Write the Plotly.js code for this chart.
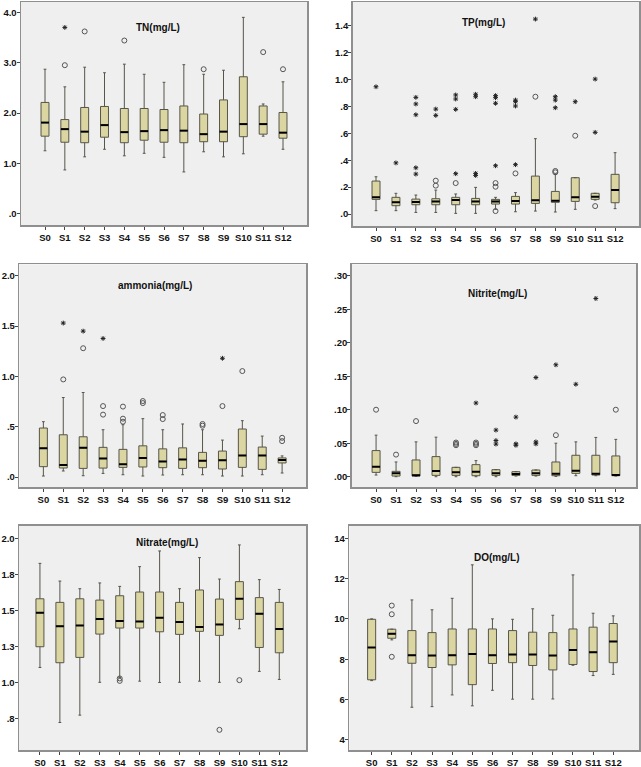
<!DOCTYPE html>
<html>
<head>
<meta charset="utf-8">
<script src="https://cdn.plot.ly/plotly-3.0.1.min.js"></script>
<style>html,body{margin:0;padding:0;background:#fff;}#chart{width:641px;height:767px;}</style>
</head>
<body>
<div id="chart"></div>
<script>
const stations = ['S0','S1','S2','S3','S4','S5','S6','S7','S8','S9','S10','S11','S12'];

// TN(mg/L)
const tnUpper = [2.87,2.52,2.91,2.80,2.97,2.77,2.61,2.96,2.77,2.85,3.90,2.18,2.62];
const tnQ3    = [2.21,1.87,2.11,2.13,2.09,2.09,2.07,2.14,1.98,2.26,2.72,2.14,2.01];
const tnMed   = [1.81,1.68,1.63,1.76,1.62,1.64,1.66,1.65,1.58,1.63,1.78,1.78,1.61];
const tnQ1    = [1.54,1.42,1.41,1.52,1.41,1.46,1.42,1.41,1.43,1.43,1.53,1.58,1.50];
const tnLower = [1.25,0.87,1.13,1.28,1.15,1.20,1.12,0.83,1.23,1.13,1.19,1.54,1.28];
const tnCircSt  = ['S1','S2','S4','S8','S11','S12'];
const tnCircVal = [2.95,3.62,3.44,2.87,3.21,2.87];
const tnStarSt  = ['S1'];
const tnStarVal = [3.70];

// TP(mg/L)
const tpUpper = [0.277,0.154,0.141,0.178,0.149,0.198,0.124,0.159,0.560,0.297,0.270,0.154,0.456];
const tpQ3    = [0.245,0.124,0.111,0.114,0.124,0.116,0.109,0.131,0.282,0.168,0.270,0.154,0.295];
const tpMed   = [0.124,0.087,0.089,0.094,0.104,0.094,0.094,0.097,0.102,0.099,0.124,0.129,0.178];
const tpQ1    = [0.109,0.062,0.069,0.069,0.069,0.069,0.074,0.074,0.079,0.087,0.094,0.109,0.084];
const tpLower = [0.025,0.025,0.012,0.012,0.005,0.005,0.035,0.017,0.022,0.015,0.035,0.104,0.040];
const tpCircSt  = ['S3','S3','S4','S6','S6','S6','S7','S8','S9','S9','S10','S11'];
const tpCircVal = [0.248,0.211,0.230,0.230,0.203,0.022,0.302,0.872,0.320,0.310,0.582,0.059];
const tpStarSt  = ['S0','S1','S2','S2','S2','S2','S2','S3','S3','S4','S4','S4','S4','S5','S5','S5','S5','S6','S6','S6','S6','S7','S7','S7','S7','S8','S9','S9','S9','S10','S11','S11'];
const tpStarVal = [0.946,0.380,0.867,0.818,0.738,0.344,0.297,0.780,0.733,0.885,0.855,0.778,0.300,0.890,0.872,0.302,0.287,0.880,0.865,0.823,0.359,0.847,0.835,0.803,0.367,1.449,0.872,0.847,0.790,0.835,1.003,0.607];

// ammonia(mg/L)
const amUpper = [0.55,0.79,0.84,0.47,0.52,0.58,0.47,0.527,0.47,0.367,0.56,0.407,0.21];
const amQ3    = [0.487,0.42,0.40,0.295,0.275,0.31,0.28,0.29,0.245,0.258,0.477,0.298,0.19];
const amMed   = [0.285,0.12,0.29,0.185,0.126,0.19,0.155,0.175,0.162,0.166,0.215,0.215,0.17];
const amQ1    = [0.103,0.09,0.086,0.089,0.096,0.10,0.093,0.086,0.093,0.08,0.096,0.076,0.14];
const amLower = [0.01,0.06,0.013,0.036,0.023,0.01,0.02,0.023,0.023,0.01,0.01,0.023,0.04];
const amCircSt  = ['S1','S2','S3','S3','S4','S4','S4','S5','S5','S6','S6','S8','S8','S9','S10','S12','S12'];
const amCircVal = [0.97,1.28,0.705,0.62,0.70,0.58,0.55,0.755,0.735,0.616,0.576,0.527,0.51,0.705,1.053,0.39,0.357];
const amStarSt  = ['S1','S2','S3','S9'];
const amStarVal = [1.53,1.45,1.377,1.18];

// Nitrite(mg/L)
const niUpper = [0.062,0.022,0.052,0.059,0.014,0.024,0.0105,0.0075,0.010,0.050,0.052,0.0586,0.0557];
const niQ3    = [0.039,0.008,0.025,0.030,0.014,0.018,0.0105,0.0075,0.010,0.022,0.032,0.032,0.031];
const niMed   = [0.015,0.005,0.002,0.0085,0.0065,0.0075,0.005,0.004,0.005,0.0045,0.009,0.0045,0.0025];
const niQ1    = [0.0065,0.001,0.001,0.002,0.002,0.0015,0.002,0.002,0.002,0.0015,0.005,0.0025,0.0015];
const niLower = [0.0025,0.0,0.0005,0.0,0.0,0.0,0.0,0.001,0.001,0.0005,0.0015,0.0015,0.001];
const niCircSt  = ['S0','S1','S2','S4','S4','S4','S5','S5','S5','S9','S12'];
const niCircVal = [0.100,0.033,0.083,0.051,0.049,0.047,0.051,0.049,0.047,0.062,0.100];
const niStarSt  = ['S5','S6','S6','S6','S7','S7','S7','S8','S8','S8','S9','S10','S11'];
const niStarVal = [0.110,0.0696,0.054,0.0487,0.089,0.049,0.047,0.148,0.052,0.049,0.167,0.138,0.266];

// Nitrate(mg/L)
const naUpper = [1.826,1.703,1.650,1.690,1.666,1.803,1.912,1.650,1.866,1.717,1.954,1.713,1.645];
const naQ3    = [1.580,1.555,1.580,1.571,1.601,1.627,1.627,1.555,1.641,1.578,1.699,1.588,1.555];
const naMed   = [1.483,1.390,1.395,1.439,1.425,1.423,1.449,1.418,1.384,1.402,1.581,1.476,1.370];
const naQ1    = [1.247,1.136,1.173,1.335,1.377,1.377,1.351,1.333,1.354,1.326,1.437,1.242,1.205];
const naLower = [1.103,0.721,0.772,1.000,1.034,1.008,0.999,1.000,1.008,1.000,1.372,1.076,1.020];
const naCircSt  = ['S4','S4','S9','S10'];
const naCircVal = [1.027,1.010,0.670,1.015];
const naStarSt  = [];
const naStarVal = [];

// DO(mg/L)
const doUpper = [10.00,9.49,10.94,10.45,11.02,12.68,10.00,9.98,10.50,10.18,12.18,10.28,10.15];
const doQ3    = [9.98,9.49,9.42,9.32,9.50,9.50,9.50,9.42,9.34,9.32,9.50,9.59,9.77];
const doMed   = [8.58,9.26,8.20,8.18,8.20,8.26,8.20,8.23,8.23,8.18,8.46,8.35,8.88];
const doQ1    = [6.98,9.04,7.80,7.59,7.72,6.74,7.79,7.83,7.69,7.47,7.74,7.39,7.83];
const doLower = [6.94,8.96,5.62,5.65,6.23,5.69,6.46,6.02,6.02,6.03,7.70,7.19,7.25];
const doCircSt  = ['S1','S1','S1'];
const doCircVal = [10.66,10.23,8.12];
const doStarSt  = [];
const doStarVal = [];

// tick labels
const tnTickVals = [0,1,2,3,4];           const tnTickText = ['.0','1.0','2.0','3.0','4.0'];
const tpTickVals = [0,0.2,0.4,0.6,0.8,1.0,1.2,1.4]; const tpTickText = ['.0','.2','.4','.6','.8','1.0','1.2','1.4'];
const amTickVals = [0,0.5,1.0,1.5,2.0];   const amTickText = ['.0','.5','1.0','1.5','2.0'];
const niTickVals = [0,0.05,0.10,0.15,0.20,0.25,0.30]; const niTickText = ['.00','.05','.10','.15','.20','.25','.30'];
const naTickVals = [0.75,1.0,1.25,1.5,1.75,2.0]; const naTickText = ['.8','1.0','1.3','1.5','1.8','2.0'];
const doTickVals = [4,6,8,10,12,14];      const doTickText = ['4','6','8','10','12','14'];

const titles = ['TN(mg/L)','TP(mg/L)','ammonia(mg/L)','Nitrite(mg/L)','Nitrate(mg/L)','DO(mg/L)'];

const panels = [
  {up:tnUpper,q3:tnQ3,med:tnMed,q1:tnQ1,lo:tnLower,cs:tnCircSt,cv:tnCircVal,ss:tnStarSt,sv:tnStarVal,tv:tnTickVals,tt:tnTickText},
  {up:tpUpper,q3:tpQ3,med:tpMed,q1:tpQ1,lo:tpLower,cs:tpCircSt,cv:tpCircVal,ss:tpStarSt,sv:tpStarVal,tv:tpTickVals,tt:tpTickText},
  {up:amUpper,q3:amQ3,med:amMed,q1:amQ1,lo:amLower,cs:amCircSt,cv:amCircVal,ss:amStarSt,sv:amStarVal,tv:amTickVals,tt:amTickText},
  {up:niUpper,q3:niQ3,med:niMed,q1:niQ1,lo:niLower,cs:niCircSt,cv:niCircVal,ss:niStarSt,sv:niStarVal,tv:niTickVals,tt:niTickText},
  {up:naUpper,q3:naQ3,med:naMed,q1:naQ1,lo:naLower,cs:naCircSt,cv:naCircVal,ss:naStarSt,sv:naStarVal,tv:naTickVals,tt:naTickText},
  {up:doUpper,q3:doQ3,med:doMed,q1:doQ1,lo:doLower,cs:doCircSt,cv:doCircVal,ss:doStarSt,sv:doStarVal,tv:doTickVals,tt:doTickText}
];

// layout geometry (pixels of the 641x767 page)
const W = 641, H = 767;
const frames = [
  {x0:21,   x1:307, y0:2,     y1:225,   xr:[-1.21,13.21], yr:[-0.224,4.205], tx:158, ty:28},
  {x0:352.7,x1:639, y0:2,     y1:226,   xr:[-1.17,13.20], yr:[-0.089,1.576], tx:483, ty:23},
  {x0:19.3, x1:306, y0:264.3, y1:487.3, xr:[-1.21,13.20], yr:[-0.102,2.114], tx:155, ty:285},
  {x0:351.7,x1:636, y0:264.3, y1:487.3, xr:[-1.22,13.01], yr:[-0.0158,0.317], tx:497, ty:293},
  {x0:19,   x1:306, y0:525.7, y1:750,   xr:[-1.05,13.34], yr:[0.53,2.0875], tx:167, ty:542},
  {x0:349.3,x1:639, y0:525.7, y1:750,   xr:[-1.11,13.28], yr:[3.5,14.62], tx:497, ty:557}
];

const idx = stations.map((s,i)=>i);
const traces = [];
const layout = {
  width: W, height: H,
  margin: {l:0,r:0,t:0,b:0},
  paper_bgcolor: '#ffffff',
  plot_bgcolor: '#efefef',
  showlegend: false,
  annotations: []
};
const tickFont = {family:'Liberation Sans, Arial, sans-serif', size:9.5, color:'#111', weight:'bold'};
const halfW = 0.2;

panels.forEach((p, k) => {
  const n = k + 1;
  const xa = 'x' + (n === 1 ? '' : n), ya = 'y' + (n === 1 ? '' : n);
  traces.push({
    type:'box', x: idx, q1: p.q1, median: p.med, q3: p.q3,
    lowerfence: p.lo, upperfence: p.up,
    xaxis: xa, yaxis: ya, width: 0.4, whiskerwidth: 0.35,
    fillcolor: '#dbd6a1', line: {color:'#55554a', width:1},
    boxpoints: false, hoverinfo: 'skip'
  });
  // thicker median bars
  const mx = [], my = [];
  p.med.forEach((m,i) => { mx.push(i-halfW, i+halfW, null); my.push(m, m, null); });
  traces.push({type:'scatter', mode:'lines', x: mx, y: my, xaxis: xa, yaxis: ya,
    line:{color:'#000', width:2}, hoverinfo:'skip'});
  traces.push({type:'scatter', mode:'markers', x: p.cs.map(s=>stations.indexOf(s)), y: p.cv,
    xaxis: xa, yaxis: ya, marker:{symbol:'circle-open', size:5, color:'#555', line:{width:1, color:'#555'}}, hoverinfo:'skip'});
  traces.push({type:'scatter', mode:'markers', x: p.ss.map(s=>stations.indexOf(s)), y: p.sv,
    xaxis: xa, yaxis: ya, marker:{symbol:'asterisk-open', size:4, color:'#222', line:{width:1, color:'#222'}}, hoverinfo:'skip'});

  const f = frames[k];
  const axBase = {showline:true, mirror:true, linecolor:'#8f8f8f', linewidth:1.5,
    showgrid:false, zeroline:false, ticks:'outside', ticklen:3, tickwidth:1, tickcolor:'#444',
    tickfont: tickFont, fixedrange:true, automargin:false};
  layout['xaxis' + (n===1?'':n)] = Object.assign({}, axBase, {
    domain:[f.x0/W, f.x1/W], range:f.xr, anchor: ya, tickangle:0, ticklabelstandoff:0,
    tickmode:'array', tickvals: idx, ticktext: stations});
  layout['yaxis' + (n===1?'':n)] = Object.assign({}, axBase, {
    domain:[1 - f.y1/H, 1 - f.y0/H], range:f.yr, anchor: xa, ticklabelstandoff:-2,
    tickmode:'array', tickvals: p.tv, ticktext: p.tt});
  layout.annotations.push({text: titles[k], xref:'paper', yref:'paper',
    x: f.tx/W, y: 1 - f.ty/H, xanchor:'center', yanchor:'middle', showarrow:false,
    font:{family:'Liberation Sans, Arial, sans-serif', size:10, color:'#111', weight:'bold'}});
});

Plotly.newPlot('chart', traces, layout, {displayModeBar:false, staticPlot:true});
</script>
</body>
</html>
